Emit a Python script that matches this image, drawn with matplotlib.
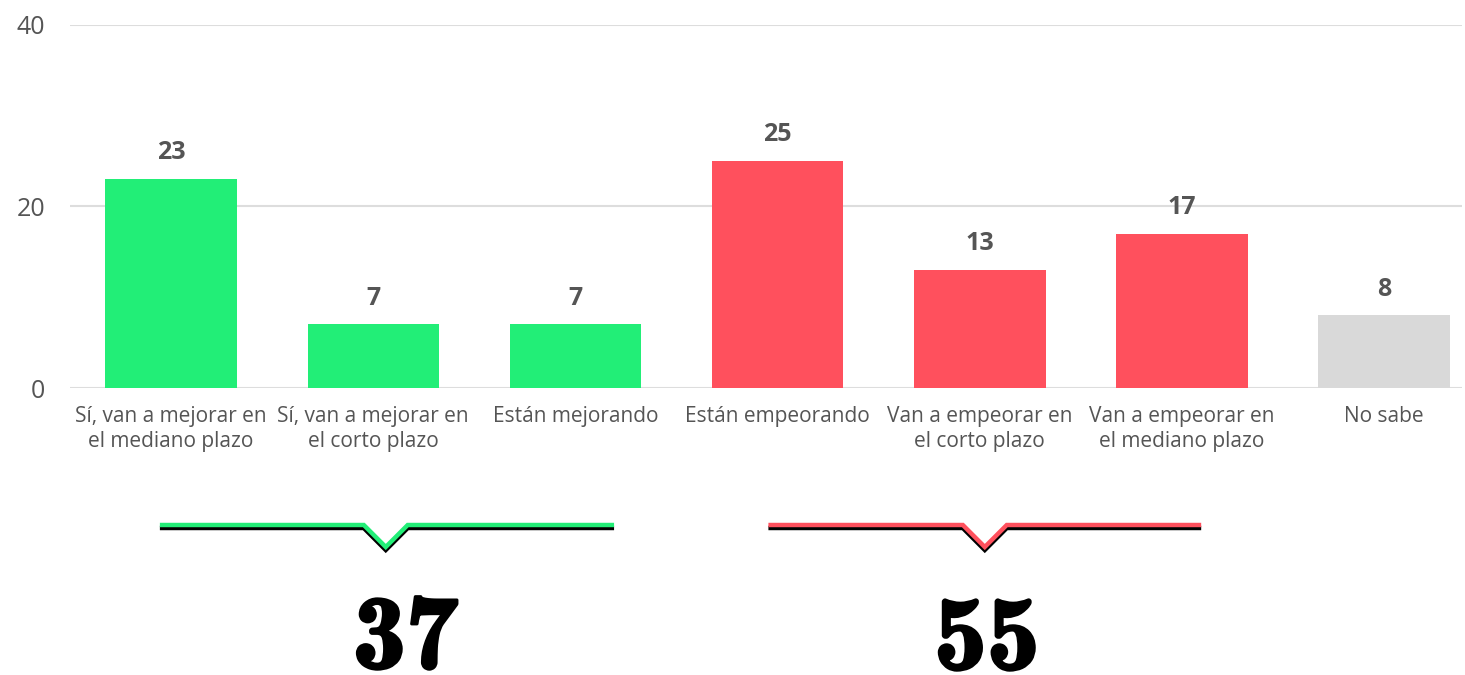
import os
import matplotlib
matplotlib.use("Agg")
import matplotlib.pyplot as plt
import matplotlib.transforms as mtransforms
from matplotlib.font_manager import FontProperties
from matplotlib.patheffects import withStroke

categories = ["Sí, van a mejorar en\nel mediano plazo",
              "Sí, van a mejorar en\nel corto plazo",
              "Están mejorando",
              "Están empeorando",
              "Van a empeorar en\nel corto plazo",
              "Van a empeorar en\nel mediano plazo",
              "No sabe"]
values = [23, 7, 7, 25, 13, 17, 8]
bar_colors = ["#22EE77", "#22EE77", "#22EE77", "#FF505D", "#FF505D", "#FF505D", "#D9D9D9"]
yticks = [0, 20, 40]
positive_idx = [0, 1, 2]
negative_idx = [3, 4, 5]

plt.rcParams['font.family'] = ['Open Sans', 'DejaVu Sans']

W, H = 1465, 675
fig = plt.figure(figsize=(W / 100, H / 100), dpi=100)
ax = fig.add_axes([70 / W, 1 - 388 / H, (1462 - 70) / W, (388 - 25) / H])

x = list(range(len(values)))
ax.bar(x, values, width=0.65, color=bar_colors, zorder=2)
ax.set_xlim(-0.5, 6.385)
ax.set_ylim(0, 40)
ax.set_yticks(yticks)
ax.yaxis.grid(True, color="#DDDDDD", linewidth=1.5, zorder=0)
ax.set_axisbelow(True)
for s in ax.spines.values():
    s.set_visible(False)
ax.tick_params(axis='y', length=0, pad=18, labelsize=18, labelcolor="#555555")
ax.tick_params(axis='x', length=0, pad=13, labelsize=15, labelcolor="#555555")
ax.set_xticks(x)
ax.set_xticklabels(categories, linespacing=1.22)

for xi, v in zip(x, values):
    ax.annotate(str(v), (xi, v), xytext=(0, 10), textcoords="offset points",
                ha="center", va="bottom", fontsize=18, fontweight="bold", color="#555555")

# brackets in data-x / figure-y coordinates
trans = mtransforms.blended_transform_factory(ax.transData, fig.transFigure)
px = 1 / 202.5  # one pixel in data units (x)
y0 = 1 - 525 / H
dy = 22 / H
def bracket(x_left, x_right, x_tip, color):
    hw = 22 * px
    xs = [x_left, x_tip - hw, x_tip, x_tip + hw, x_right]
    ys = [y0, y0, y0 - dy, y0, y0]
    ys_b = [yy - 3 / H for yy in ys]
    ax.plot(xs, ys_b, color="black", lw=3.2, transform=trans, clip_on=False,
            solid_joinstyle="miter")
    ax.plot(xs, ys, color=color, lw=3.2, transform=trans, clip_on=False,
            solid_joinstyle="miter")

g_left = positive_idx[0] - 9 * px
g_right = positive_idx[-1] + 0.18
bracket(g_left, g_right, (386 - 171) * px, "#22EE77")
r_left = negative_idx[0] - 7 * px
r_right = negative_idx[-1] + 17 * px
bracket(r_left, r_right, (986 - 171) * px, "#FF505D")

pos_total = sum(values[i] for i in positive_idx)
neg_total = sum(values[i] for i in negative_idx)

cmb_path = os.path.join(matplotlib.get_data_path(), "fonts", "ttf", "cmb10.ttf")
big_fp = FontProperties(fname=cmb_path, size=76)
fx = [withStroke(linewidth=2.2, foreground="black")]
ax.text((406 - 171) * px, 1 - 668 / H, str(pos_total), transform=trans,
        ha="center", va="baseline", fontproperties=big_fp, color="black", path_effects=fx)
ax.text((988 - 171) * px, 1 - 669 / H, str(neg_total), transform=trans,
        ha="center", va="baseline", fontproperties=big_fp, color="black", path_effects=fx)

fig.savefig("out.png", dpi=100)
